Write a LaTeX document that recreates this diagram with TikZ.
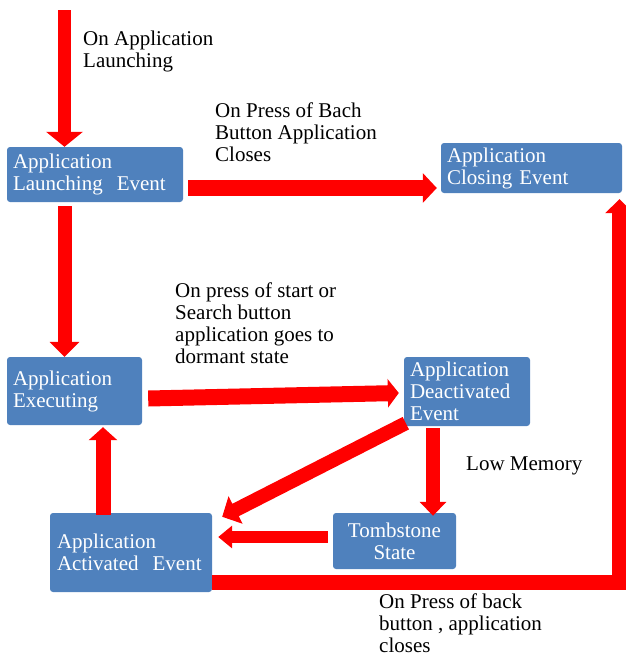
\documentclass[tikz,border=0pt]{standalone}
\usepackage{fontspec}
\setmainfont{Liberation Serif}
\usetikzlibrary{arrows.meta,calc}
\definecolor{boxblue}{HTML}{4F81BD}
\definecolor{flowred}{HTML}{FF0000}

\begin{document}
\begin{tikzpicture}[x=1pt,y=-1pt,
  state/.style={fill=boxblue, rounded corners=3pt, inner sep=0pt,
    text=white, font=\fontsize{21}{22}\selectfont, align=left},
  note/.style={inner sep=0pt, anchor=north west, align=left,
    font=\fontsize{21}{22}\selectfont},
  flow/.style={draw=flowred, line width=14pt,
    -{Triangle[width=30pt,length=15pt]}},
]
\useasboundingbox (0,0) rectangle (625,657);

% application life-cycle states
\node[state, minimum width=176pt, minimum height=55pt, text width=164pt]
  (launch) at (95,174.5) {Application\\Launching\ \ Event};
\node[state, minimum width=181pt, minimum height=50pt, text width=169pt]
  (closing) at (531.5,168) {Application\\Closing Event};
\node[state, minimum width=135pt, minimum height=68pt, text width=123pt]
  (exec) at (74.5,391) {Application\\Executing};
\node[state, minimum width=126pt, minimum height=69pt, text width=114pt]
  (deact) at (467,391.5) {Application\\Deactivated\\Event};
\node[state, minimum width=162pt, minimum height=79pt, text width=148pt]
  (activ) at (131,552.5) {Application\\Activated\ \ Event};
\node[state, minimum width=123pt, minimum height=56pt, text width=111pt,
  align=center] (tomb) at (394.5,541) {Tombstone\\State};

% transition labels
\node[note] (lblaunch) at (83,30.7) {On Application\\Launching};
\node[note] (lbback) at (215,102.7) {On Press of Bach\\Button Application\\Closes};
\node[note] (lbsleep) at (175,282.7) {On press of start or\\Search button\\application goes to\\dormant state};
\node[note] (lbmem) at (466,456.7) {Low Memory};
\node[note] (lbclose) at (379,593.7) {On Press of back\\button , application\\closes};

% transitions
\coordinate (entry) at (64.5,10);
\draw[flow, line width=13pt, -{Triangle[width=36pt,length=15pt]}]
  (entry) -- (launch.north -| entry);
\draw[flow, line width=16pt, -{Triangle[width=29pt,length=14pt]}]
  ($(launch.east)+(5,13.5)$) -- ($(closing.west)+(-4,20)$);
\draw[flow, shorten <=4pt, -{Triangle[width=29pt,length=15pt]}]
  (launch.south -| entry) -- (exec.north -| entry);
\draw[flow, line width=16pt, -{Triangle[width=28pt,length=11pt]}]
  ($(exec.east)+(6,7.5)$) -- ($(deact.west)+(-5,1.5)$);
\draw[flow, -{Triangle[width=30pt,length=15pt]}]
  ($(deact.south west)+(2,-3)$) -- ($(activ.north east)+(10,4)$);
\draw[flow, shorten <=2pt, -{Triangle[width=26pt,length=14pt]}]
  ($(deact.south)+(-34,0)$) -- ($(tomb.north)+(38.5,3)$);
\draw[flow, line width=12pt, -{Triangle[width=22pt,length=14pt]}]
  ($(tomb.west)+(-5,-4)$) -- ($(activ.east)+(6,-15.5)$);
\draw[flow, line width=15pt, -{Triangle[width=28pt,length=13pt]}]
  ($(activ.north)+(-28,2)$) -- ($(exec.south)+(28.5,2)$);
\draw[flow, line width=15pt, line join=miter, -{Triangle[width=28pt,length=14pt]}]
  ($(activ.east)+(0,30)$) -| ($(closing.south)+(88,6)$);
\end{tikzpicture}
\end{document}
